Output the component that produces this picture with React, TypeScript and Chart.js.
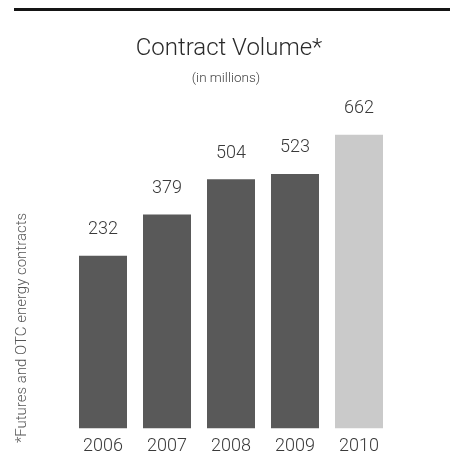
import React, { useEffect, useRef } from "react";
import { Chart, registerables } from "chart.js";

Chart.register(...registerables);

const years = ["2006", "2007", "2008", "2009", "2010"];
const volumes = [232, 379, 504, 523, 662];
const barColors = ["#595959", "#595959", "#595959", "#595959", "#cacaca"];
const titleText = "Contract Volume*";
const subtitleText = "(in millions)";
const footnoteText = "*Futures and OTC energy contracts";
const axisMin = -382;
const axisMax = 786;

const FONT = "Roboto, 'Liberation Sans', sans-serif";

const decorPlugin = {
  id: "decor",
  beforeDraw(chart: any) {
    const ctx = chart.ctx;
    ctx.save();
    ctx.fillStyle = "#ffffff";
    ctx.fillRect(0, 0, chart.width, chart.height);
    ctx.fillStyle = "#151515";
    ctx.fillRect(14, 8, 436, 3);
    ctx.fillStyle = "#2a2a2a";
    ctx.textAlign = "center";
    ctx.textBaseline = "middle";
    ctx.font = `300 24px ${FONT}`;
    ctx.fillText(titleText, 229, 49);
    ctx.fillStyle = "#444";
    ctx.font = `300 13.5px ${FONT}`;
    ctx.fillText(subtitleText, 226, 79);
    ctx.translate(22, 328);
    ctx.rotate(-Math.PI / 2);
    ctx.fillStyle = "#555";
    ctx.font = `300 15px ${FONT}`;
    ctx.fillText(footnoteText, 0, 0);
    ctx.restore();
  },
  afterDatasetsDraw(chart: any) {
    const ctx = chart.ctx;
    const meta = chart.getDatasetMeta(0);
    ctx.save();
    ctx.fillStyle = "#3a3a3a";
    ctx.textAlign = "center";
    ctx.textBaseline = "middle";
    ctx.font = `300 18px ${FONT}`;
    meta.data.forEach((bar: any, i: number) => {
      ctx.fillText(String(volumes[i]), bar.x, bar.y - 26);
    });
    ctx.restore();
  },
};

export default function App() {
  const ref = useRef<HTMLCanvasElement>(null);
  useEffect(() => {
    if (!ref.current) return;
    const chart = new Chart(ref.current, {
      type: "bar",
      data: {
        labels: years,
        datasets: [
          {
            data: volumes,
            base: axisMin,
            backgroundColor: barColors,
            borderWidth: 0,
            barPercentage: 0.75,
            categoryPercentage: 1,
          } as any,
        ],
      },
      options: {
        responsive: false,
        animation: false,
        layout: { padding: { left: 71, right: 59, top: 100, bottom: 5 } },
        plugins: {
          legend: { display: false },
          tooltip: { enabled: false },
          title: { display: false },
        },
        scales: {
          x: {
            grid: { display: false, drawTicks: false },
            border: { display: false },
            ticks: {
              padding: 7,
              color: "#3a3a3a",
              font: { family: FONT, size: 18, weight: "300" as any },
            },
          },
          y: {
            display: false,
            min: axisMin,
            max: axisMax,
          },
        },
      },
      plugins: [decorPlugin],
    });
    return () => chart.destroy();
  }, []);
  return (
    <div style={{ position: "fixed", left: 0, top: 0, width: 450, height: 469 }}>
      <canvas ref={ref} width={450} height={469} />
    </div>
  );
}
